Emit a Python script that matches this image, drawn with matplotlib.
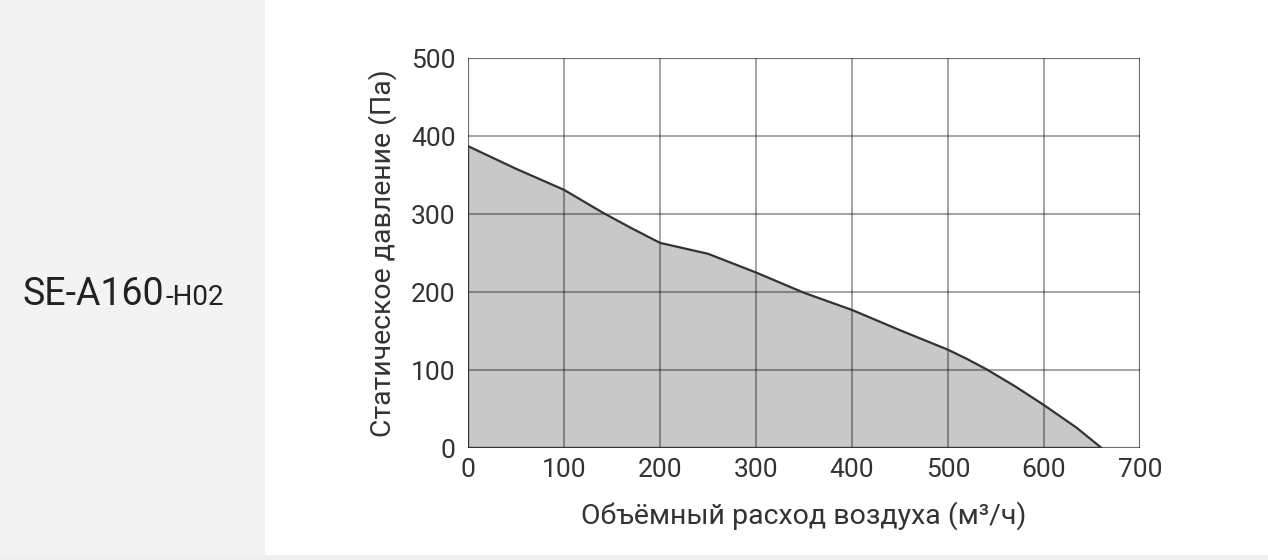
import matplotlib
matplotlib.use("Agg")
import matplotlib.pyplot as plt
import numpy as np
from matplotlib.patches import Rectangle

plt.rcParams['font.family'] = ['Roboto', 'DejaVu Sans']

# Data
flow = [0, 50, 100, 140, 170, 200, 225, 250, 300, 350, 400, 450, 500, 520, 540, 570, 600, 634, 660]
pressure = [387, 358, 331, 302, 282, 263, 256, 249, 225, 199, 177, 151, 126, 114, 101, 79, 55, 26, 0]
x_ticks = [0, 100, 200, 300, 400, 500, 600, 700]
y_ticks = [0, 100, 200, 300, 400, 500]
model_main = "SE-A160"
model_suffix = "-H02"
xlabel = "Объёмный расход воздуха (м³/ч)"
ylabel = "Статическое давление (Па)"

fig = plt.figure(figsize=(12.68, 5.6), dpi=100)
fig.patches.append(Rectangle((0, 0), 265 / 1268, 1, transform=fig.transFigure,
                             facecolor='#f3f3f3', edgecolor='none', zorder=0))
fig.patches.append(Rectangle((0, 0), 1, 5 / 560, transform=fig.transFigure,
                             facecolor='#f0f0f0', edgecolor='none', zorder=0))

ax = fig.add_axes([468 / 1268, 112 / 560, 672 / 1268, 390 / 560])
ax.set_facecolor('none')

xs = np.array(flow, dtype=float)
ys = np.array(pressure, dtype=float)
poly_x = np.r_[xs, xs[0]]
poly_y = np.r_[ys, 0.0]
ax.fill(poly_x, poly_y, facecolor='#c8c8c8', edgecolor='none', zorder=1)

ax.set_xlim(x_ticks[0], x_ticks[-1])
ax.set_ylim(y_ticks[0], y_ticks[-1])
ax.set_xticks(x_ticks)
ax.set_yticks(y_ticks)
gkw = dict(color='black', alpha=0.34, linewidth=1.5, zorder=2)
ax.grid(True, **gkw)
for s in ax.spines.values():
    s.set_visible(False)
for v in (x_ticks[0], x_ticks[-1]):
    ax.axvline(v, **gkw)
for v in (y_ticks[0], y_ticks[-1]):
    ax.axhline(v, **gkw)
ax.fill(poly_x, poly_y, facecolor='none', edgecolor='#333333', linewidth=1.6,
        joinstyle='round', zorder=3)

ax.tick_params(length=0, labelsize=19, labelcolor='#333333')
ax.tick_params(axis='y', pad=9)
ax.tick_params(axis='x', pad=7)
ax.set_xlabel(xlabel, fontsize=20.5, color='#333333', labelpad=14)
ax.set_ylabel(ylabel, fontsize=20.5, color='#333333', labelpad=10)

t = fig.text(22 / 1268, 1 - 305 / 560, model_main, fontsize=27, color='#222222',
             ha='left', va='baseline')
fig.canvas.draw()
bb = t.get_window_extent()
fig.text((bb.x1 + 2) / 1268, 1 - 305 / 560, model_suffix, fontsize=20, color='#222222',
         ha='left', va='baseline')

fig.savefig('out.png', dpi=100)
